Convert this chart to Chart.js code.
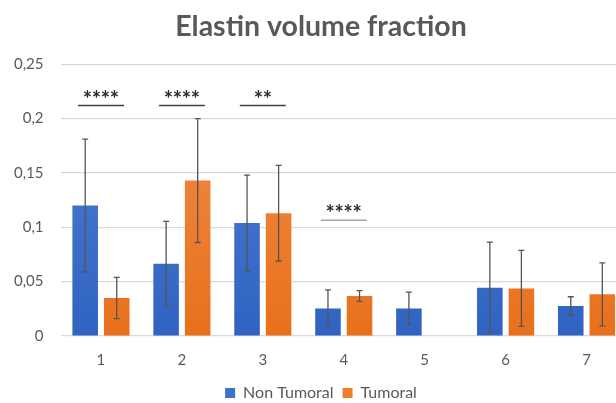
<!DOCTYPE html>
<html>
<head>
<meta charset="utf-8">
<script src="https://cdn.jsdelivr.net/npm/chart.js@4"></script>
<style>
  html, body { margin: 0; padding: 0; background: #fff; overflow: hidden; }
  #wrap { width: 632px; height: 411px; }
</style>
</head>
<body>
<div id="wrap"><canvas id="chart"></canvas></div>
<script>
// dados
const categories = ['1', '2', '3', '4', '5', '6', '7'];
const nonTumoral = [0.120, 0.0665, 0.104, 0.0254, 0.0254, 0.0444, 0.0276];
const nonTumoralErr = [0.061, 0.039, 0.044, 0.017, 0.015, 0.042, 0.0085];
const tumoral = [0.035, 0.143, 0.113, 0.0368, null, 0.0438, 0.0383];
const tumoralErr = [0.019, 0.057, 0.044, 0.005, null, 0.035, 0.029];
const yTicks = [0, 0.05, 0.1, 0.15, 0.2, 0.25];

// marcas de significância
const sigIndex = [0, 1, 2, 3];
const sigText = ['****', '****', '**', '****'];
const sigLevel = [0.212, 0.212, 0.212, 0.1065];

const textColor = '#595959';
const fontFamily = 'Lato, "Open Sans", sans-serif';

function barGradient(top, bottom) {
    return (context) => {
        const chart = context.chart;
        const area = chart.chartArea;
        if (!area) return bottom;
        const g = chart.ctx.createLinearGradient(0, area.top, 0, area.bottom);
        g.addColorStop(0, top);
        g.addColorStop(1, bottom);
        return g;
    };
}

// barras de erro
const errorBars = {
    id: 'errorBars',
    afterDatasetsDraw(chart) {
        const ctx = chart.ctx;
        const y = chart.scales.y;
        const errs = [nonTumoralErr, tumoralErr];
        ctx.save();
        ctx.strokeStyle = '#555555';
        ctx.lineWidth = 1.3;
        chart.data.datasets.forEach((ds, i) => {
            const meta = chart.getDatasetMeta(i);
            meta.data.forEach((bar, j) => {
                const v = ds.data[j];
                const e = errs[i][j];
                if (v == null || e == null) return;
                const x = bar.x;
                const yTop = y.getPixelForValue(v + e);
                const yBot = y.getPixelForValue(v - e);
                ctx.beginPath();
                ctx.moveTo(x, yTop); ctx.lineTo(x, yBot);
                ctx.moveTo(x - 3, yTop); ctx.lineTo(x + 3, yTop);
                ctx.moveTo(x - 3, yBot); ctx.lineTo(x + 3, yBot);
                ctx.stroke();
            });
        });
        ctx.restore();
    }
};

// asteriscos e linhas de significância
const significance = {
    id: 'significance',
    afterDatasetsDraw(chart) {
        const ctx = chart.ctx;
        const xs = chart.scales.x;
        const ys = chart.scales.y;
        ctx.save();
        sigIndex.forEach((idx, k) => {
            const cx = xs.getPixelForValue(idx);
            const ly = ys.getPixelForValue(sigLevel[k]);
            ctx.strokeStyle = k === 3 ? '#a6a6a6' : '#404040';
            ctx.lineWidth = 1.5;
            ctx.beginPath();
            ctx.moveTo(cx - 23, ly);
            ctx.lineTo(cx + 23, ly);
            ctx.stroke();
            const n = sigText[k].length;
            ctx.fillStyle = '#2b2b2b';
            ctx.font = 'bold 22px ' + fontFamily;
            ctx.textAlign = 'center';
            ctx.textBaseline = 'middle';
            for (let s = 0; s < n; s++) {
                const sx = cx + (s - (n - 1) / 2) * 9;
                ctx.fillText('*', sx, ly - 6);
            }
        });
        ctx.restore();
    }
};

// o gráfico original é mais largo que a imagem: título e legenda ficam um pouco à direita
const shiftHeader = {
    id: 'shiftHeader',
    afterLayout(chart) {
        [chart.titleBlock, chart.legend].forEach((b) => {
            if (!b) return;
            b.left += 9;
            b.right += 9;
        });
    }
};

const ctx = document.getElementById('chart').getContext('2d');
new Chart(ctx, {
    type: 'bar',
    data: {
        labels: categories,
        datasets: [
            {
                label: 'Non Tumoral',
                data: nonTumoral,
                backgroundColor: barGradient('#5180d4', '#3063c2'),
                categoryPercentage: 0.78,
                barPercentage: 0.81,
            },
            {
                label: 'Tumoral',
                data: tumoral,
                backgroundColor: barGradient('#f38f4c', '#e8701c'),
                categoryPercentage: 0.78,
                barPercentage: 0.81,
            },
        ],
    },
    options: {
        responsive: true,
        maintainAspectRatio: false,
        animation: false,
        layout: { padding: { left: -3, right: 5, top: 0, bottom: 0 } },
        plugins: {
            title: {
                display: true,
                text: 'Elastin volume fraction',
                color: textColor,
                font: { family: fontFamily, size: 28.5, weight: 'bold' },
                padding: { top: 10, bottom: 20 },
            },
            legend: {
                position: 'bottom',
                labels: {
                    color: textColor,
                    font: { family: fontFamily, size: 16 },
                    boxWidth: 10,
                    boxHeight: 10,
                    padding: 9,
                    generateLabels(chart) {
                        const cols = ['#3f72cc', '#ef7d2e'];
                        return chart.data.datasets.map((ds, i) => ({
                            text: ds.label,
                            fillStyle: cols[i],
                            strokeStyle: cols[i],
                            lineWidth: 0,
                            fontColor: textColor,
                            datasetIndex: i,
                        }));
                    },
                },
            },
            tooltip: { enabled: false },
        },
        scales: {
            x: {
                grid: { display: false },
                border: { display: false },
                ticks: {
                    color: textColor,
                    font: { family: fontFamily, size: 15 },
                    padding: 7,
                },
            },
            y: {
                min: 0,
                max: 0.25,
                afterBuildTicks(scale) {
                    scale.ticks = yTicks.map(v => ({ value: v }));
                },
                grid: { color: '#d9d9d9', lineWidth: 1.2, drawTicks: false },
                border: { display: false },
                ticks: {
                    color: textColor,
                    font: { family: fontFamily, size: 15 },
                    padding: 17,
                    callback: (v) => String(Math.round(v * 100) / 100).replace('.', ','),
                },
            },
        },
    },
    plugins: [errorBars, significance, shiftHeader],
});
</script>
</body>
</html>
